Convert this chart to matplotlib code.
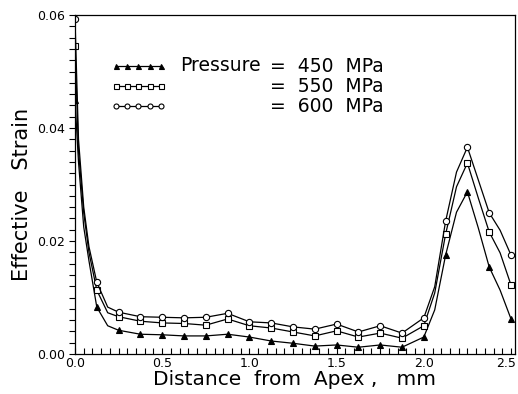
import matplotlib
matplotlib.use("Agg")
import matplotlib.pyplot as plt
from matplotlib.ticker import MultipleLocator
from matplotlib.transforms import ScaledTranslation

plt.rcParams['font.family'] = ['DejaVu Sans']

# distance from apex (mm); markers only drawn at the "marked" positions
dist = [0, 0.02, 0.05, 0.08, 0.125, 0.1875, 0.25, 0.375, 0.5, 0.625, 0.75,
        0.875, 1.0, 1.125, 1.25, 1.375, 1.5, 1.625, 1.75, 1.875, 2.0,
        2.0625, 2.125, 2.1875, 2.25, 2.3125, 2.375, 2.4375, 2.5]
marked = [0, 4, 6, 7, 8, 9, 10, 11, 12, 13, 14, 15, 16, 17, 18, 19, 20,
          22, 24, 26, 28]

strain_450 = [0.045, 0.034, 0.0225, 0.0165, 0.0083, 0.0050, 0.0042, 0.0035,
              0.0034, 0.0032, 0.0032, 0.0035, 0.0030, 0.0023, 0.0019, 0.0014,
              0.0016, 0.0012, 0.0016, 0.0012, 0.0030, 0.0078, 0.0175, 0.0251,
              0.0287, 0.0223, 0.0154, 0.0113, 0.0062]
strain_550 = [0.0545, 0.036, 0.025, 0.018, 0.0113, 0.0073, 0.0066, 0.0058,
              0.0055, 0.0054, 0.0051, 0.0062, 0.0050, 0.0046, 0.0039, 0.0032,
              0.0041, 0.0030, 0.0037, 0.0028, 0.0050, 0.0108, 0.0212, 0.0296,
              0.0338, 0.0276, 0.0216, 0.0179, 0.0122]
strain_600 = [0.0593, 0.038, 0.026, 0.019, 0.0127, 0.0083, 0.0074, 0.0066,
              0.0065, 0.0064, 0.0065, 0.0072, 0.0057, 0.0055, 0.0048, 0.0044,
              0.0053, 0.0039, 0.0050, 0.0037, 0.0064, 0.0119, 0.0235, 0.0322,
              0.0366, 0.0308, 0.0250, 0.0219, 0.0175]

labels = ["=  450  MPa", "=  550  MPa", "=  600  MPa"]

fig = plt.figure(figsize=(5.18, 3.94), dpi=100)
ax = fig.add_axes([75/518, 40/394, 439.5/518, 339/394])

ax.plot(dist, strain_450, 'k-', lw=0.9, marker='^', ms=4.5, mfc='k',
        mew=0.8, markevery=marked, label=labels[0])
ax.plot(dist, strain_550, 'k-', lw=0.9, marker='s', ms=4.5, mfc='white',
        mew=0.8, markevery=marked, label=labels[1])
ax.plot(dist, strain_600, 'k-', lw=0.9, marker='o', ms=4.5, mfc='white',
        mew=0.8, markevery=marked, label=labels[2])

ax.set_xlim(0, 2.52)
ax.set_ylim(0, 0.06)
ax.set_xticks([0, 0.5, 1.0, 1.5, 2.0, 2.5])
ax.xaxis.set_minor_locator(MultipleLocator(0.05))
ax.yaxis.set_major_locator(MultipleLocator(0.02))
ax.yaxis.set_minor_locator(MultipleLocator(0.002))
ax.xaxis.set_major_formatter(lambda v, p: f"{v:.1f}")
ax.yaxis.set_major_formatter(lambda v, p: f"{v:.2f}")
ax.tick_params(axis='x', which='both', direction='in', length=4, width=0.8,
               labelsize=9, pad=2)
ax.tick_params(axis='y', which='both', direction='out', length=4, width=0.8,
               labelsize=9, pad=3)
for s in ax.spines.values():
    s.set_linewidth(0.9)

# "2.5" sits a little to the left so it stays inside the figure
last = ax.xaxis.get_major_ticks()[-1].label1
last.set_transform(last.get_transform() +
                   ScaledTranslation(-5/100, 0, fig.dpi_scale_trans))

ax.set_xlabel("Distance  from  Apex ,   mm", fontsize=14.5, labelpad=0)
ax.set_ylabel("Effective   Strain", fontsize=15)
ax.yaxis.set_label_coords(-0.097, 0.47)

# legend: handles + "= xxx MPa", with "Pressure" in front of the first row
leg = ax.legend(loc='upper left', bbox_to_anchor=(0.08, 0.875), frameon=False,
                numpoints=5, handlelength=3.0, handletextpad=5.5,
                labelspacing=0.05, fontsize=13.5, markerscale=0.8,
                borderpad=0, borderaxespad=0)
ax.text(0.239, 0.851, "Pressure", transform=ax.transAxes, ha='left',
        va='center', fontsize=13.5)

fig.savefig("out.png", dpi=100)
